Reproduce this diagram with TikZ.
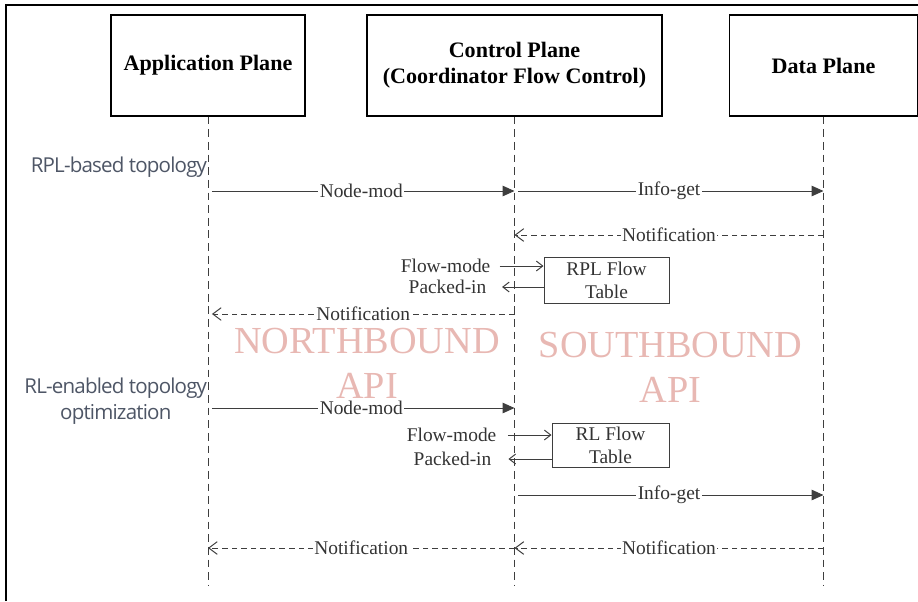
\documentclass[tikz,border=0pt]{standalone}
\usepackage{fontspec}
\setmainfont{Liberation Serif}
\setsansfont{Open Sans}[LetterSpace=-4]
\usetikzlibrary{arrows.meta,positioning}
\definecolor{apipink}{RGB}{232,184,179}
\definecolor{sidegray}{RGB}{78,86,102}
\definecolor{linegray}{RGB}{62,62,62}

\tikzset{
  plane/.style={draw=black, line width=0.8pt, minimum height=2.525cm, align=center,
    font=\fontsize{15.7}{18.5}\selectfont\bfseries},
  flowtable/.style={draw=linegray, line width=0.7pt, align=center, inner sep=0pt,
    text=black!80, font=\fontsize{13.8}{16.4}\selectfont},
  lifeline/.style={draw=linegray, line width=0.7pt, dash pattern=on 5.5pt off 3.5pt},
  call/.style={draw=linegray, line width=0.7pt, -{Triangle[length=8.5pt,width=7.5pt]}},
  back/.style={draw=linegray, line width=0.7pt, dash pattern=on 4pt off 2.8pt,
    -{Straight Barb[length=6pt,width=9pt]}},
  flow/.style={draw=linegray, line width=0.7pt, -{Straight Barb[length=4.5pt,width=7pt]}},
  msglbl/.style={fill=white, inner sep=1pt, text=black!80, font=\fontsize{13.8}{16}\selectfont},
  api/.style={text=apipink, align=center, font=\fontsize{27.2}{32}\selectfont},
  side/.style={text=sidegray, align=center, font=\sffamily\fontsize{14.6}{18.5}\selectfont},
}

\begin{document}
\begin{tikzpicture}[x=0.025cm,y=-0.025cm]
\useasboundingbox (0,0) rectangle (918,601);
\draw[line width=0.8pt] (6,601) -- (6,5) -- (918,5);

% planes
\node[plane, minimum width=4.85cm] (app) at (208,65.5) {Application Plane};
\node[plane, minimum width=7.375cm] (ctrl) at (514.5,65.5) {Control Plane\\(Coordinator Flow Control)};
\node[plane, minimum width=4.7cm] (data) at (823.5,65.5) {Data Plane};

% api areas
\node[api] (north) at (367,363.5) {NORTHBOUND\\API};
\node[api] (south) at (670.5,367.5) {SOUTHBOUND\\API};

% lifelines
\coordinate (bottom) at (0,585);
\draw[lifeline] (app.south) -- (app.south |- bottom);
\draw[lifeline] (ctrl.south) -- (ctrl.south |- bottom);
\draw[lifeline] (data.south) -- (data.south |- bottom);

% rpl phase
\node[side, anchor=east] (rplside) at (212,167) {RPL-based topology};
\coordinate (m1) at (0,191);
\draw[call, shorten <=2.8pt] (app |- m1) -- (ctrl |- m1) node[msglbl, midway] (nm1) {Node-mod};
\draw[call, shorten <=2.8pt] (ctrl |- m1) -- (data |- m1) node[msglbl, midway] (ig1) {Info-get};
\coordinate (m2) at (0,235);
\draw[back] (data |- m2) -- (ctrl |- m2) node[msglbl, midway] (nt1) {Notification};

\node[flowtable, minimum width=3.125cm, minimum height=1.15cm] (rpl) at (606.5,280) {RPL Flow\\Table};
\node[msglbl, fill=none, anchor=east] (fm1) at (492,266) {Flow-mode};
\node[msglbl, fill=none, anchor=east] (pi1) at (488,287) {Packed-in};
\draw[flow] ([xshift=5.5pt]fm1.east) -- (fm1.east -| rpl.west);
\draw[flow] (pi1.east -| rpl.west) -- ([xshift=10pt]pi1.east);

\coordinate (m3) at (0,314);
\draw[back] (ctrl |- m3) -- ([xshift=2.8pt]app |- m3) node[msglbl, midway] (nt2) {Notification};

% rl phase
\node[side, anchor=east] (rlside) at (212,401) {RL-enabled topology\\optimization};
\coordinate (m4) at (0,408);
\draw[call, shorten <=2.8pt] (app |- m4) -- (ctrl |- m4) node[msglbl, midway] (nm2) {Node-mod};

\node[flowtable, minimum width=2.925cm, minimum height=1.1cm] (rl) at (610.5,445) {RL Flow\\Table};
\node[msglbl, fill=none, anchor=east] (fm2) at (498,435) {Flow-mode};
\node[msglbl, fill=none, anchor=east] (pi2) at (493,459) {Packed-in};
\draw[flow] ([xshift=7pt]fm2.east) -- (fm2.east -| rl.west);
\draw[flow] (pi2.east -| rl.west) -- ([xshift=11pt]pi2.east);

\coordinate (m5) at (0,495);
\draw[call, shorten <=2.8pt] (ctrl |- m5) -- (data |- m5) node[msglbl, midway] (ig2) {Info-get};

\coordinate (m6) at (0,548);
\draw[back] (data |- m6) -- (ctrl |- m6) node[msglbl, midway] (nt3) {Notification};
\draw[back] (ctrl |- m6) -- (app |- m6) node[msglbl, midway] (nt4) {Notification};
\end{tikzpicture}
\end{document}
